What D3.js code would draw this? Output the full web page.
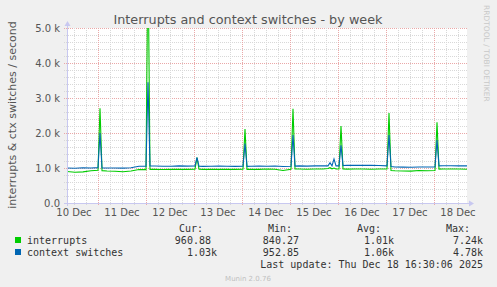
<!DOCTYPE html>
<html>
<head>
<meta charset="utf-8">
<script src="https://cdn.jsdelivr.net/npm/d3@7"></script>
<style>
  body { margin: 0; background: #f0f0f0; }
  text { font-family: "DejaVu Sans", sans-serif; }
  .mono { font-family: "DejaVu Sans Mono", monospace; font-size: 10px; fill: #333; white-space: pre; }
</style>
</head>
<body>
<div id="chart"></div>
<script>
// hours since the graph start (10 Dec 08:30 UTC), one week + a bit
var hours = [0, 4, 8, 12, 15.5, 16.5, 17.5, 20, 24, 28, 32, 36, 39.5, 40.5, 41.5, 44, 48, 52, 56, 60, 64, 65, 66,
  68, 72, 76, 80, 84, 88, 89, 90, 92, 96, 100, 104, 108, 112, 113, 114, 116, 120, 124, 128,
  130.5, 131.5, 132.5, 133.5, 134.5, 136, 137, 138, 140, 144, 148, 152, 156, 160, 161, 162,
  164, 168, 172, 176, 180, 184, 185, 186, 188, 192, 196, 200];
var interrupts = [900, 880, 890, 920, 935, 2710, 925, 915, 905, 895, 915, 955, 955, 7240, 960, 962, 958, 962, 965, 960, 968, 1300, 968,
  962, 966, 960, 965, 962, 965, 2110, 962, 966, 962, 970, 966, 930, 966, 2690, 970, 970, 966, 970, 972,
  985, 1010, 978, 1000, 970, 970, 2200, 972, 968, 972, 970, 966, 970, 970, 2570, 930,
  920, 915, 912, 928, 920, 930, 2310, 968, 970, 972, 970, 966];
var ctxSwitches = [1000, 995, 1005, 1000, 1010, 2000, 1000, 1002, 1000, 996, 1006, 1050, 1052, 3450, 1058, 1055, 1050, 1052, 1060, 1055, 1060, 1300, 1050,
  1046, 1050, 1055, 1050, 1046, 1050, 1700, 1046, 1050, 1055, 1050, 1055, 1042, 1050, 1940, 1055, 1060, 1055, 1060, 1065,
  1060, 1150, 1060, 1260, 1060, 1060, 1650, 1070, 1080, 1075, 1080, 1075, 1070, 1060, 1940, 1040,
  1030, 1025, 1022, 1030, 1030, 1030, 1800, 1060, 1065, 1065, 1060, 1060];

var yTicks = [0, 1000, 2000, 3000, 4000, 5000];
var dayLabels = ["10 Dec", "11 Dec", "12 Dec", "13 Dec", "14 Dec", "15 Dec", "16 Dec", "17 Dec", "18 Dec"];

var legendNames = ["interrupts", "context switches"];
var legendColors = ["#00cc00", "#0066b3"];
var statHeads = ["Cur:", "Min:", "Avg:", "Max:"];
var statRows = [["960.88 ", "840.27 ", "1.01k", "7.24k"],
                ["1.03k", "952.85 ", "1.06k", "4.78k"]];

var width = 497, height = 287;
var start = new Date(Date.UTC(2025, 11, 10, 8, 30));
var end = new Date(Date.UTC(2025, 11, 18, 16, 30));
var toDate = function(h) { return new Date(start.getTime() + h * 3600e3); };

var x = d3.scaleUtc().domain([start, end]).range([67, 467]);
var y = d3.scaleLinear().domain([0, 5000]).range([203, 28]);

var svg = d3.select("#chart").append("svg")
    .attr("width", width)
    .attr("height", height);

svg.append("rect").attr("width", width).attr("height", height).attr("fill", "#f0f0f0");
svg.append("rect").attr("x", 67).attr("y", 28).attr("width", 400).attr("height", 175).attr("fill", "#fff");

// grid
var grid = svg.append("g").attr("shape-rendering", "crispEdges");
d3.range(0, 5001, 200).forEach(function(v) {
  if (v === 0) return;
  grid.append("line")
      .attr("x1", 64).attr("x2", 467)
      .attr("y1", Math.round(y(v)) + 0.5).attr("y2", Math.round(y(v)) + 0.5)
      .attr("stroke", v % 1000 === 0 ? "#eaa8a8" : "#d8d8d8")
      .attr("stroke-dasharray", "1,1");
});
d3.utcHour.every(6).range(start, end).forEach(function(t) {
  var major = t.getUTCHours() === 0;
  var xx = Math.round(x(t)) + 0.5;
  grid.append("line")
      .attr("x1", xx).attr("x2", xx)
      .attr("y1", 28).attr("y2", 206)
      .attr("stroke", major ? "#eaa8a8" : "#d8d8d8")
      .attr("stroke-dasharray", "1,1");
});

// lines
svg.append("clipPath").attr("id", "clip")
  .append("rect").attr("x", 67).attr("y", 28).attr("width", 400).attr("height", 175);

var line = function(vals) {
  return d3.line()
      .x(function(d, i) { return x(toDate(hours[i])); })
      .y(function(d) { return y(d); })(vals);
};
var plot = svg.append("g").attr("clip-path", "url(#clip)");
plot.append("path").attr("d", line(interrupts))
    .attr("fill", "none").attr("stroke", legendColors[0]).attr("stroke-width", 1.1);
plot.append("path").attr("d", line(ctxSwitches))
    .attr("fill", "none").attr("stroke", legendColors[1]).attr("stroke-width", 1.1);

// axes
var axisCol = "#c8c8f0";
svg.append("line").attr("x1", 64).attr("x2", 470).attr("y1", 203.5).attr("y2", 203.5).attr("stroke", axisCol);
svg.append("line").attr("x1", 67.5).attr("x2", 67.5).attr("y1", 206).attr("y2", 25).attr("stroke", axisCol);
svg.append("path").attr("d", "M469,200.5L474,203.5L469,206.5Z").attr("fill", axisCol);
svg.append("path").attr("d", "M64.5,26L67.5,21L70.5,26Z").attr("fill", axisCol);

svg.selectAll(".ylab").data(yTicks).enter().append("text")
    .attr("x", 60).attr("y", function(d) { return y(d) + 4; })
    .attr("text-anchor", "end").attr("font-size", 10).attr("fill", "#555")
    .text(function(d) { return d === 0 ? "0.0" : (d / 1000).toFixed(1) + " k"; });

svg.selectAll(".xlab").data(dayLabels).enter().append("text")
    .attr("x", function(d, i) { return x(new Date(Date.UTC(2025, 11, 10 + i, 12))); })
    .attr("y", 216).attr("text-anchor", "middle").attr("font-size", 10).attr("fill", "#555")
    .text(function(d) { return d; });

// titles
svg.append("text").attr("x", 248).attr("y", 24).attr("text-anchor", "middle")
    .attr("font-size", 12.8).attr("fill", "#555")
    .text("Interrupts and context switches - by week");
svg.append("text").attr("transform", "translate(16,115) rotate(-90)")
    .attr("text-anchor", "middle").attr("font-size", 11).attr("fill", "#555")
    .text("interrupts & ctx switches / second");
svg.append("text").attr("transform", "translate(484,5) rotate(90)")
    .attr("font-size", 7.5).attr("fill", "#c8c8c8")
    .text("RRDTOOL / TOBI OETIKER");

// legend
var headEnds = [203, 292, 381, 470];
var valEnds = [217, 305, 394, 483];
statHeads.forEach(function(h, i) {
  svg.append("text").attr("class", "mono").attr("x", headEnds[i]).attr("y", 232)
      .attr("text-anchor", "end").text(h);
});
legendNames.forEach(function(n, r) {
  var yy = 244 + r * 12;
  svg.append("rect").attr("x", 15).attr("y", yy - 7).attr("width", 6).attr("height", 6)
      .attr("fill", legendColors[r]);
  svg.append("text").attr("class", "mono").attr("x", 27).attr("y", yy).text(n);
  statRows[r].forEach(function(v, i) {
    svg.append("text").attr("class", "mono").attr("x", valEnds[i]).attr("y", yy)
        .attr("text-anchor", "end").text(v);
  });
});
svg.append("text").attr("class", "mono").attr("x", 483).attr("y", 268)
    .attr("text-anchor", "end").text("Last update: Thu Dec 18 16:30:06 2025");
svg.append("text").attr("x", 248).attr("y", 281).attr("text-anchor", "middle")
    .attr("font-size", 7).attr("fill", "#c0c0c0").text("Munin 2.0.76");
</script>
</body>
</html>
